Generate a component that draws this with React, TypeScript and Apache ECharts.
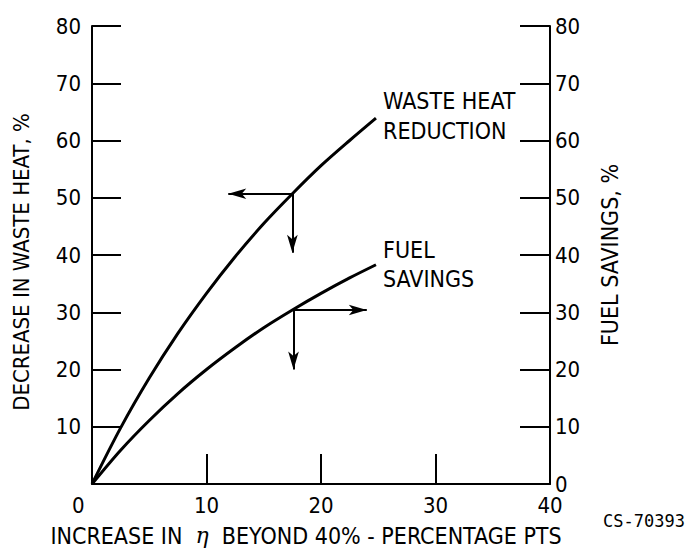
import React, { useEffect, useRef } from "react";
import * as echarts from "echarts";

// Waste heat reduction curve (x = increase in efficiency, pts; y = decrease in waste heat, %)
const wasteX = [0, 2.5, 5, 7.5, 10, 12.5, 15, 17.5, 20, 22.5, 24.8];
const wasteY = [0, 9.8, 18.5, 26.3, 33.3, 39.7, 45.5, 50.7, 55.6, 60.0, 63.9];
// Fuel savings curve
const fuelX = [0, 2.5, 5, 7.5, 10, 12.5, 15, 17.5, 20, 22.5, 24.8];
const fuelY = [0, 5.9, 11.1, 15.8, 20.0, 23.8, 27.3, 30.4, 33.3, 36.0, 38.3];
// Arrow endpoints [fromX, fromY, toX, toY]
const wasteArrows = [
  [17.5, 50.7, 11.9, 50.7],
  [17.5, 50.7, 17.5, 40.4],
];
const fuelArrows = [
  [17.6, 30.4, 24.0, 30.4],
  [17.6, 30.4, 17.6, 20.0],
];
const xTicks = [0, 10, 20, 30, 40];
const yTicks = [0, 10, 20, 30, 40, 50, 60, 70, 80];

const FONT = "'Liberation Sans Narrow', 'DejaVu Sans Condensed', 'Arial Narrow', sans-serif";

export default function App() {
  const ref = useRef<HTMLDivElement>(null);
  useEffect(() => {
    if (!ref.current) return;
    const chart = echarts.init(ref.current, undefined, { renderer: "svg" });
    const toPairs = (xs: number[], ys: number[]) => xs.map((x, i) => [x, ys[i]]);
    const arrows = (a: number[][]) =>
      a.map((r) => [
        { coord: [r[0], r[1]], symbol: "none" },
        { coord: [r[2], r[3]], symbol: "arrow", symbolSize: [8, 18] },
      ]);
    const axisLine = { show: true, lineStyle: { color: "#000", width: 2 } };
    const label = { color: "#000", fontSize: 22, fontFamily: FONT };
    const nameStyle = { color: "#000", fontSize: 22, fontFamily: FONT };
    chart.setOption({
      animation: false,
      backgroundColor: "#fff",
      grid: { left: 92, right: 143, top: 26, bottom: 69, containLabel: false },
      xAxis: {
        type: "value",
        min: xTicks[0],
        max: xTicks[xTicks.length - 1],
        interval: 10,
        axisLine,
        axisTick: { show: true, inside: true, length: 30, lineStyle: { color: "#000", width: 2 } },
        axisLabel: { ...label, margin: 10, formatter: (v: number) => (v === 0 ? "" : String(v)) },
        splitLine: { show: false },
        name: "INCREASE IN  {e|η}  BEYOND 40% - PERCENTAGE PTS",
        nameLocation: "middle",
        nameGap: 40,
        nameTextStyle: {
          ...nameStyle,
          fontSize: 23,
          padding: [0, 30, 0, 0],
          rich: { e: { fontFamily: "'DejaVu Serif', serif", fontStyle: "italic", fontSize: 22, color: "#000" } },
        },
      },
      yAxis: [
        {
          type: "value",
          position: "left",
          min: yTicks[0],
          max: yTicks[yTicks.length - 1],
          interval: 10,
          axisLine,
          axisTick: { show: true, inside: true, length: 29, lineStyle: { color: "#000", width: 2 } },
          axisLabel: { ...label, margin: 11, formatter: (v: number) => (v === 0 ? "" : String(v)) },
          splitLine: { show: false },
          name: "DECREASE IN WASTE HEAT, %",
          nameLocation: "middle",
          nameRotate: 90,
          nameGap: 60,
          nameTextStyle: { ...nameStyle, padding: [0, 14, 0, 0] },
        },
        {
          type: "value",
          position: "right",
          min: yTicks[0],
          max: yTicks[yTicks.length - 1],
          interval: 10,
          axisLine,
          axisTick: { show: true, inside: true, length: 30, lineStyle: { color: "#000", width: 2 } },
          axisLabel: { ...label, margin: 5 },
          splitLine: { show: false },
          name: "FUEL SAVINGS, %",
          nameLocation: "middle",
          nameRotate: 90,
          nameGap: 48,
          nameTextStyle: { ...nameStyle, fontSize: 23 },
        },
      ],
      series: [
        {
          type: "line",
          data: toPairs(wasteX, wasteY),
          smooth: 0.3,
          showSymbol: false,
          lineStyle: { color: "#000", width: 3 },
          markLine: {
            silent: true,
            label: { show: false },
            lineStyle: { color: "#000", width: 2, type: "solid" },
            data: arrows(wasteArrows),
          },
        },
        {
          type: "line",
          data: toPairs(fuelX, fuelY),
          smooth: 0.3,
          showSymbol: false,
          lineStyle: { color: "#000", width: 3 },
          markLine: {
            silent: true,
            label: { show: false },
            lineStyle: { color: "#000", width: 2, type: "solid" },
            data: arrows(fuelArrows),
          },
        },
      ],
      graphic: [
        {
          type: "text",
          left: 383,
          top: 86,
          style: { text: "WASTE HEAT\nREDUCTION", fill: "#000", fontSize: 23, lineHeight: 30, fontFamily: FONT },
        },
        {
          type: "text",
          left: 383,
          top: 235,
          style: { text: "FUEL\nSAVINGS", fill: "#000", fontSize: 23, lineHeight: 29, fontFamily: FONT },
        },
        {
          type: "text",
          left: 72,
          top: 494,
          style: { text: "0", fill: "#000", fontSize: 22, fontFamily: FONT },
        },
        {
          type: "text",
          left: 603,
          top: 512,
          style: { text: "CS-70393", fill: "#000", fontSize: 17, fontFamily: "'DejaVu Sans Mono', monospace" },
        },
      ],
    });
    return () => chart.dispose();
  }, []);
  return <div ref={ref} style={{ position: "fixed", left: 0, top: 0, width: 693, height: 553, background: "#fff" }} />;
}
